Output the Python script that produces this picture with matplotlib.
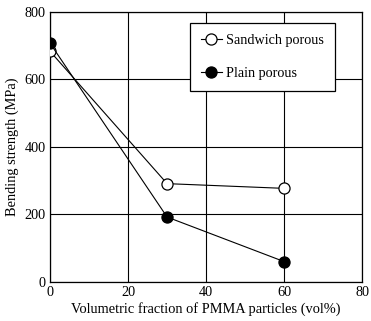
import matplotlib
matplotlib.use('Agg')
import matplotlib.pyplot as plt

# data
pmma = [0, 30, 60]
sandwich = [683, 291, 277]
plain = [707, 192, 60]

xticks = [0, 20, 40, 60, 80]
yticks = [0, 200, 400, 600, 800]

plt.rcParams['font.family'] = ['Liberation Serif', 'DejaVu Serif']
plt.rcParams['font.size'] = 10

fig = plt.figure(figsize=(3.71, 3.21), dpi=100)
ax = fig.add_axes([0.135, 0.122, 0.841, 0.841])

ax.plot(pmma, sandwich, '-o', color='black', lw=0.8, mfc='white', mec='black',
	ms=8, mew=0.9, label='Sandwich porous', zorder=3)
ax.plot(pmma, plain, '-o', color='black', lw=0.8, mfc='black', mec='black',
	ms=8, mew=0.9, label='Plain porous', zorder=3)

ax.set_xlim(0, 80)
ax.set_ylim(0, 800)
ax.set_xticks(xticks)
ax.set_yticks(yticks)
ax.grid(True, color='black', lw=0.8)
ax.tick_params(length=0, pad=3, labelsize=10.3)
for s in ax.spines.values():
	s.set_linewidth(0.9)
for lab in ax.get_xticklabels() + ax.get_yticklabels():
	lab.set_clip_on(False)

ax.set_xlabel('Volumetric fraction of PMMA particles (vol%)', labelpad=2, fontsize=10.4)
ax.set_ylabel('Bending strength (MPa)', labelpad=4, fontsize=10.4)

leg = ax.legend(loc='upper left', bbox_to_anchor=(0.449, 0.958), frameon=True,
	fancybox=False, edgecolor='black', framealpha=1, handlelength=1.5,
	handletextpad=0.3, labelspacing=1.45, borderpad=0.75, borderaxespad=0,
	fontsize=10.2)
leg.get_frame().set_linewidth(0.9)

fig.savefig('out.png', dpi=100)
